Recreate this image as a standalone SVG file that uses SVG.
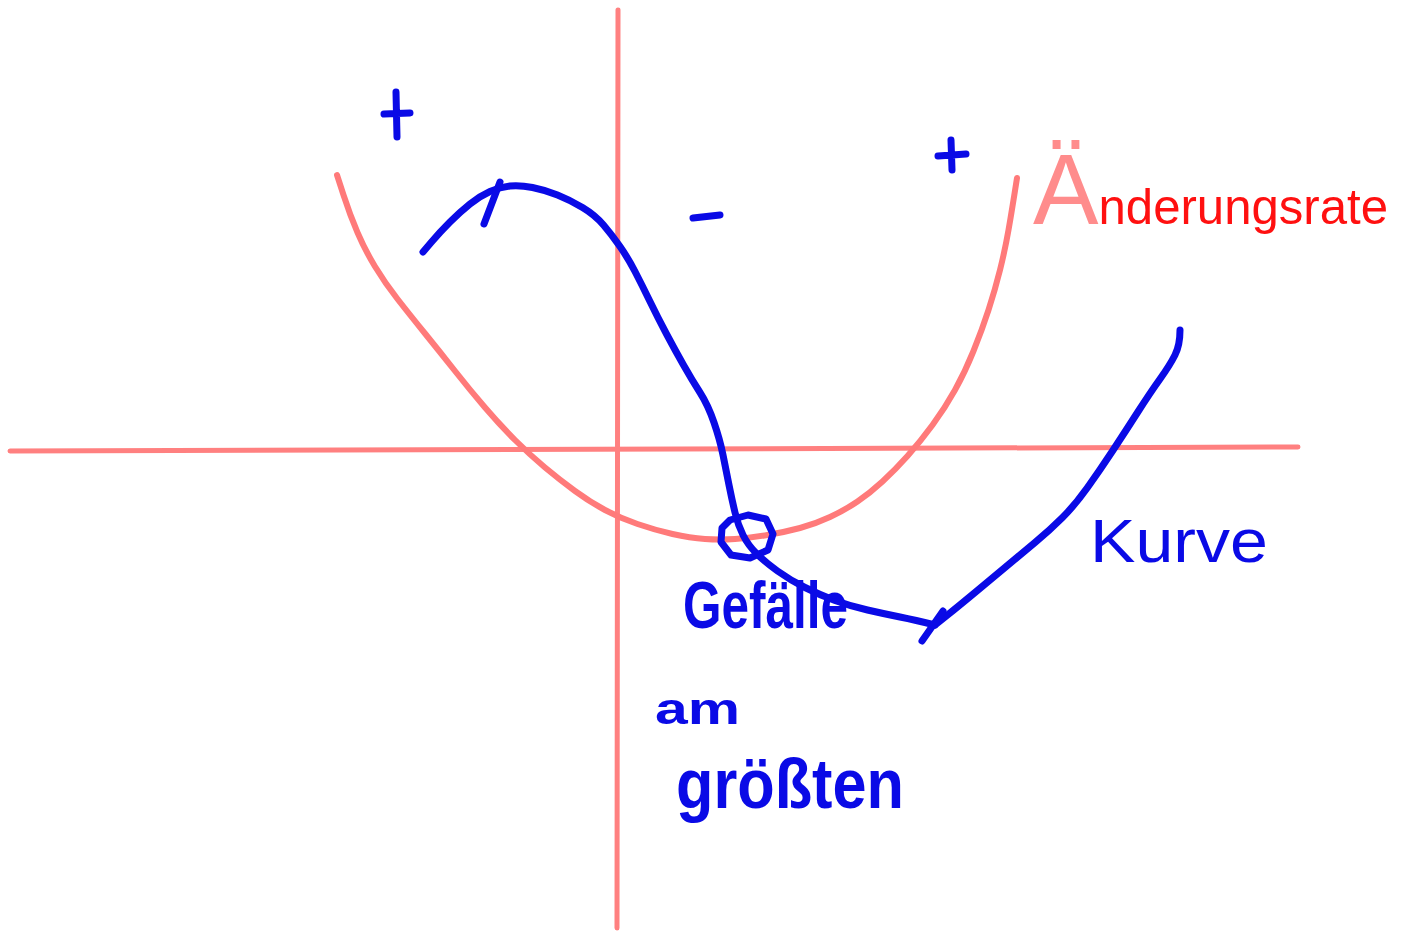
<svg xmlns="http://www.w3.org/2000/svg" width="1405" height="931" viewBox="0 0 1405 931">
<style>
.axis{stroke:#ff8080;stroke-width:5;fill:none;stroke-linecap:round}
.pink{stroke:#ff7a7a;stroke-width:6;fill:none;stroke-linecap:round;stroke-linejoin:round}
.blue{stroke:#0a0ae6;stroke-width:7;fill:none;stroke-linecap:round;stroke-linejoin:round}
.bt{fill:#0a0ae6;font-family:"Liberation Sans",Arial,sans-serif}
.rt{fill:#ff1010;font-family:"Liberation Sans",Arial,sans-serif}
</style>
<rect width="1405" height="931" fill="#fff"/>
<g id="axes">
<line class="axis" x1="618" y1="10" x2="617" y2="928"/>
<line class="axis" x1="10" y1="451" x2="1298" y2="447"/>
</g>
<g id="rate-curve">
<path class="pink" d="M337,175 L343.5,195 Q350,215 357.5,232.5 Q365,250 375,266.5 Q385,283 397.5,299 Q410,315 425,333.5 Q440,352 455,371 Q470,390 485,407.5 Q500,425 515,440 Q530,455 545,467.5 Q560,480 575,491 Q590,502 605,510 Q620,518 637.5,524 Q655,530 672.5,534 Q690,538 705,539 Q720,540 735,539 Q750,538 767.5,535 Q785,532 800,528 Q815,524 830,517 Q845,510 857.5,501.5 Q870,493 882.5,481.5 Q895,470 907.5,456 Q920,442 932.5,425 Q945,408 955,390 Q965,372 973.5,351 Q982,330 988.5,310 Q995,290 1000,270 Q1005,250 1008.5,230 Q1012,210 1017,178"/>
</g>
<g id="curve">
<path class="blue" d="M423,252 L431.5,242 Q440,232 450,222 Q460,212 470,204 Q480,196 490,191.5 Q500,187 510,186 Q520,185 532.5,187.5 Q545,190 557.5,195 Q570,200 582.5,207.5 Q595,215 603.5,225 Q612,235 620,246.5 Q628,258 635,271.5 Q642,285 650,301.5 Q658,318 666.5,334 Q675,350 683.5,365 Q692,380 700,392.5 Q708,405 714,422.5 Q720,440 723,455 Q726,470 729,485 Q732,500 735,512.5 Q738,525 743,535 Q748,545 756.5,553.5 Q765,562 777.5,571 Q790,580 805,587.5 Q820,595 835,600.5 Q850,606 867.5,610 Q885,614 900,617 Q915,620 935,625"/>
<path class="blue" d="M935,625 L947.5,615 Q960,605 975,592.5 Q990,580 1005,567.5 Q1020,555 1035,542.5 Q1050,530 1062.5,517.5 Q1075,505 1087.5,487.5 Q1100,470 1112.5,451 Q1125,432 1137.5,412.5 Q1150,393 1160,379 Q1170,365 1175,355 Q1180,345 1180,330"/>
<path class="blue" d="M484,224 L500,182 M922,641 L943,611"/>
<path class="blue" d="M730,520 L748,515 L766,519 L773,534 L768,550 L750,558 L731,555 L721,542 L722,528 Z"/>
</g>
<g id="signs">
<path class="blue" d="M384,114 L410,113 M396,92 L397,137"/>
<path class="blue" d="M938,156 L966,154 M951,140 L952,170"/>
<path class="blue" d="M693,218 L720,215"/>
</g>
<g id="labels">
<text class="rt" x="1033" y="224" font-size="50" textLength="355" lengthAdjust="spacingAndGlyphs"><tspan fill="#ff8c8c" font-size="100">Ä</tspan>nderungsrate</text>
<text class="bt" x="1090" y="562" font-size="62" textLength="178" lengthAdjust="spacingAndGlyphs">Kurve</text>
<text class="bt" x="683" y="628" font-size="66" font-weight="bold" textLength="165" lengthAdjust="spacingAndGlyphs">Gefälle</text>
<text class="bt" x="655" y="724" font-size="44" font-weight="bold" textLength="85" lengthAdjust="spacingAndGlyphs">am</text>
<text class="bt" x="676" y="808" font-size="70" font-weight="bold" textLength="228" lengthAdjust="spacingAndGlyphs">größten</text>
</g>
</svg>
